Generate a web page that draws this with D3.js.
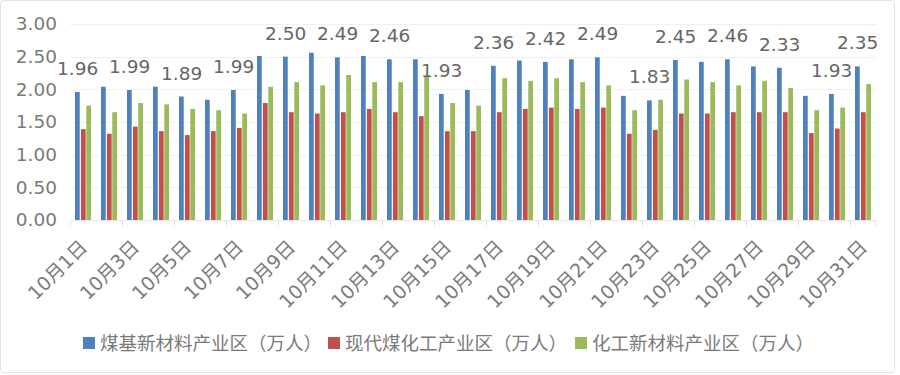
<!DOCTYPE html>
<html>
<head>
<meta charset="utf-8">
<script src="https://cdn.jsdelivr.net/npm/d3@7"></script>
<style>
  body { margin: 0; background: #fff; }
  text { font-family: "DejaVu Sans", "Noto Sans CJK SC", sans-serif; }
</style>
</head>
<body>
<div class="graphics"></div>
<script>
// days of October
var days = d3.range(1, 32).map(function(d){ return "10月" + d + "日"; });
var seriesNames = ["煤基新材料产业区（万人）", "现代煤化工产业区（万人）", "化工新材料产业区（万人）"];
var colors = ["#4f81bd", "#c0504d", "#9bbb59"];

var coalBase = [1.96, 2.04, 1.99, 2.04, 1.89, 1.84, 1.99, 2.51, 2.50, 2.56, 2.49, 2.51, 2.46, 2.46, 1.93, 1.99,
                2.36, 2.44, 2.42, 2.46, 2.49, 1.90, 1.83, 2.45, 2.42, 2.46, 2.35, 2.33, 1.90, 1.93, 2.35];
var modernCoal = [1.39, 1.32, 1.43, 1.36, 1.30, 1.36, 1.41, 1.79, 1.65, 1.63, 1.65, 1.70, 1.65, 1.59, 1.36, 1.36,
                  1.65, 1.70, 1.72, 1.70, 1.72, 1.32, 1.38, 1.63, 1.63, 1.65, 1.65, 1.65, 1.33, 1.40, 1.65];
var chemNew = [1.75, 1.65, 1.79, 1.77, 1.70, 1.68, 1.63, 2.04, 2.11, 2.06, 2.22, 2.11, 2.11, 2.19, 1.79, 1.75,
               2.17, 2.13, 2.17, 2.11, 2.06, 1.68, 1.84, 2.15, 2.11, 2.06, 2.13, 2.02, 1.68, 1.72, 2.08];
// days whose first-series value carries a data label
var labelDays = [1, 3, 5, 7, 9, 11, 13, 15, 17, 19, 21, 23, 24, 26, 28, 30, 31];
var yTicks = [0, 0.5, 1, 1.5, 2, 2.5, 3];

var w = 900, h = 375;
var plotLeft = 70, plotRight = 876, plotTop = 24, plotBottom = 220;

var allSeries = [coalBase, modernCoal, chemNew];

var svg = d3.select('.graphics')
    .append('svg')
    .attr("width", w)
    .attr("height", h);

svg.append("rect")
    .attr("x", 0.5).attr("y", 0.5)
    .attr("width", w - 6).attr("height", h - 3)
    .attr("rx", 3)
    .attr("fill", "#fff")
    .attr("stroke", "#e3e3e3");

var x0 = d3.scaleBand().domain(days).range([plotLeft, plotRight]);
var x1 = d3.scaleBand().domain([0, 1, 2]).range([5, 21]);
var y = d3.scaleLinear().domain([0, 3]).range([plotBottom, plotTop]);

// gridlines
svg.append("g")
    .selectAll("line")
    .data(yTicks.slice(1))
    .enter()
    .append("line")
    .attr("x1", plotLeft).attr("x2", plotRight)
    .attr("y1", function(d){ return Math.round(y(d)) + 0.5; })
    .attr("y2", function(d){ return Math.round(y(d)) + 0.5; })
    .attr("stroke", "#f0f0f0");

// y axis labels
var yAxis = svg.append("g")
    .attr("transform", "translate(" + plotLeft + ",0)")
    .call(d3.axisLeft(y).tickValues(yTicks).tickFormat(d3.format(".2f")).tickSize(0).tickPadding(13));
yAxis.select(".domain").remove();
yAxis.selectAll("text")
    .attr("font-size", 18.5)
    .attr("font-family", "DejaVu Sans")
    .attr("fill", "#7a7a7a");

// bars
svg.append("g")
    .selectAll("g")
    .data(days)
    .enter()
    .append("g")
    .attr("transform", function(d){ return "translate(" + x0(d) + ",0)"; })
    .selectAll("rect")
    .data(function(d, i){ return allSeries.map(function(s, k){ return {k: k, v: s[i]}; }); })
    .enter()
    .append("rect")
    .attr("x", function(d){ return x1(d.k) + (d.k == 0 ? 0 : 0.6); })
    .attr("width", function(d){ return x1.bandwidth() - 0.6; })
    .attr("y", function(d){ return y(d.v); })
    .attr("height", function(d){ return y(0) - y(d.v); })
    .attr("fill", function(d){ return colors[d.k]; });

// x axis
var xAxis = svg.append("g")
    .attr("transform", "translate(0," + plotBottom + ")");
xAxis.append("line")
    .attr("x1", plotLeft).attr("x2", plotRight)
    .attr("y1", 0.5).attr("y2", 0.5)
    .attr("stroke", "#e6e6e6");
xAxis.selectAll("line.tick")
    .data(days.filter(function(d, i){ return i % 2 == 0; }).concat(["end"]))
    .enter()
    .append("line")
    .attr("class", "tick")
    .attr("x1", function(d){ return d == "end" ? plotRight - 0.5 : Math.round(x0(d)) + 0.5; })
    .attr("x2", function(d){ return d == "end" ? plotRight - 0.5 : Math.round(x0(d)) + 0.5; })
    .attr("y1", 0).attr("y2", 6)
    .attr("stroke", "#e6e6e6");

xAxis.selectAll("text")
    .data(days.filter(function(d, i){ return i % 2 == 0; }))
    .enter()
    .append("text")
    .attr("transform", function(d){
        return "translate(" + (x0(d) + x0.bandwidth() / 2 - 4) + ",19) rotate(-45)";
    })
    .attr("text-anchor", "end")
    .attr("dy", "0.7em")
    .attr("font-size", 19)
    .attr("fill", "#7a7a7a")
    .text(function(d){ return d; });

// data labels on first series
svg.append("g")
    .selectAll("text")
    .data(labelDays)
    .enter()
    .append("text")
    .attr("x", function(d){ return x0(days[d - 1]) + x1(0) + x1.bandwidth() / 2; })
    .attr("y", function(d){ return y(coalBase[d - 1]) - 17; })
    .attr("text-anchor", "middle")
    .attr("font-size", 18.5)
    .attr("fill", "#666")
    .text(function(d){ return coalBase[d - 1].toFixed(2); });

// legend
var legendX = [83, 328, 575];
var legend = svg.append("g")
    .selectAll("g")
    .data(seriesNames)
    .enter()
    .append("g")
    .attr("transform", function(d, i){ return "translate(" + legendX[i] + ",337)"; });
legend.append("rect")
    .attr("width", 12).attr("height", 12)
    .attr("fill", function(d, i){ return colors[i]; });
legend.append("text")
    .attr("x", 17).attr("y", 6)
    .attr("dy", "0.36em")
    .attr("font-size", 18.5)
    .attr("fill", "#7a7a7a")
    .text(function(d){ return d; });
</script>
</body>
</html>
